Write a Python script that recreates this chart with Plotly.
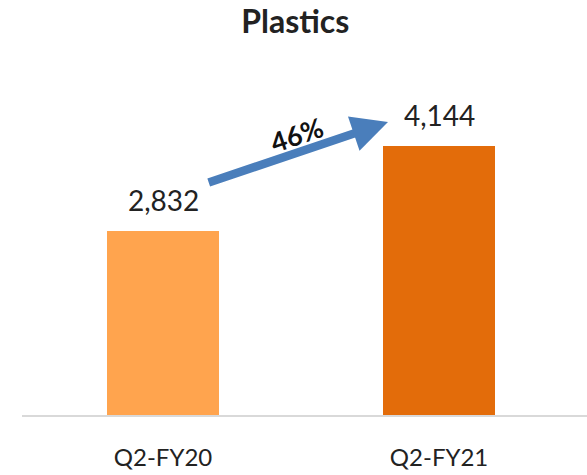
import plotly.graph_objects as go

categories = ["Q2-FY20", "Q2-FY21"]
values = [2832, 4144]
value_labels = ["2,832", "4,144"]
bar_colors = ["#FFA44E", "#E36C0A"]
growth_label = "46%"

fig = go.Figure()
fig.add_trace(go.Bar(
    x=[0, 1],
    y=values,
    width=0.406,
    marker=dict(color=bar_colors, line=dict(width=0)),
    hoverinfo="skip",
))

# value labels above each bar
for i, (v, lab) in enumerate(zip(values, value_labels)):
    fig.add_annotation(
        x=i, y=v, xref="x", yref="y", text=lab, showarrow=False,
        yanchor="middle", yshift=31,
        font=dict(family="Lato", size=28, color="#222222"),
    )

# growth arrow between the two bars
fig.add_annotation(
    x=0.815, y=4515, ax=0.16, ay=3575,
    xref="x", yref="y", axref="x", ayref="y",
    showarrow=True, arrowhead=2, arrowsize=0.85, arrowwidth=8.5,
    arrowcolor="#4A7EBB", text="",
)
fig.add_annotation(
    x=0.485, y=4320, xref="x", yref="y",
    text="<b>" + growth_label + "</b>", showarrow=False,
    textangle=-19,
    font=dict(family="Lato", size=27, color="#111111"),
)

fig.update_layout(
    width=587, height=475,
    margin=dict(l=22, r=0, t=60, b=60),
    paper_bgcolor="white", plot_bgcolor="white",
    showlegend=False,
    title=dict(text="<b>Plastics</b>", x=0.503, xanchor="center", y=0.955, yanchor="middle",
               font=dict(family="Lato", size=32, color="#222222")),
    xaxis=dict(
        range=[-0.511, 1.536],
        tickmode="array", tickvals=[0, 1], ticktext=categories,
        tickfont=dict(family="Lato", size=24, color="#222222"),
        showgrid=False, zeroline=False,
        showline=True, linecolor="#D9D9D9", linewidth=2,
        ticks="", ticklen=0,
    ),
    yaxis=dict(range=[0, 5470], visible=False, showgrid=False, zeroline=False),
    bargap=0,
)
fig.update_xaxes(ticklabelstandoff=20)

fig.write_html("out.html")
